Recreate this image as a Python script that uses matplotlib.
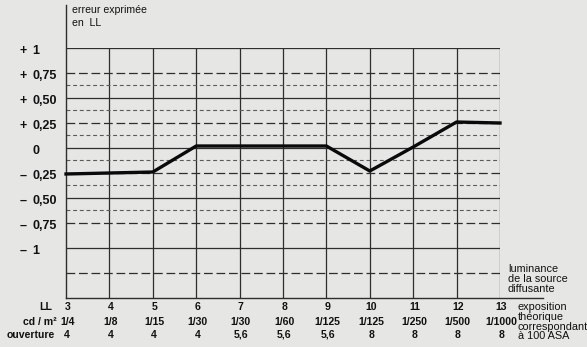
import matplotlib
matplotlib.use("Agg")
import matplotlib.pyplot as plt
from matplotlib.transforms import blended_transform_factory as btf

# ---- data ----
ll = [3, 4, 5, 6, 7, 8, 9, 10, 11, 12, 13]
erreur = [-0.26, -0.25, -0.24, 0.02, 0.02, 0.02, 0.02, -0.23, 0.01, 0.26, 0.25]
cd_m2 = ["1/4", "1/8", "1/15", "1/30", "1/30", "1/60", "1/125", "1/125", "1/250", "1/500", "1/1000"]
ouverture = ["4", "4", "4", "4", "5,6", "5,6", "5,6", "8", "8", "8", "8"]
y_ticks = [1, 0.75, 0.5, 0.25, 0, -0.25, -0.5, -0.75, -1]
y_signs = ["+", "+", "+", "+", "", "–", "–", "–", "–"]
y_nums = ["1", "0,75", "0,50", "0,25", "0", "0,25", "0,50", "0,75", "1"]
solid_y = [1, 0.5, 0, -0.5, -1]
long_dash_y = [0.75, 0.25, -0.25, -0.75, -1.25]
short_dash_y = [0.625, 0.375, 0.125, -0.125, -0.375, -0.625]

W, H = 587, 347
bg = "#e6e6e4"
fig = plt.figure(figsize=(W / 100, H / 100), dpi=100, facecolor=bg)
L, R, T, B = 66, 500, 48, 298
ax = fig.add_axes([L / W, 1 - B / H, (R - L) / W, (B - T) / H])
ax.set_facecolor(bg)
ax.set_xlim(3, 13)
ax.set_ylim(-1.5, 1)
for s in ax.spines.values():
    s.set_visible(False)
ax.set_xticks([])
ax.set_yticks([])

gc = "#2e2e2e"
for x in ll[1:]:
    ax.plot([x, x], [-1.5, 1], color=gc, lw=0.9, solid_capstyle="butt")
for y in solid_y:
    ax.plot([3, 13], [y, y], color=gc, lw=0.9)
for y in long_dash_y:
    ax.plot([3, 13], [y, y], color=gc, lw=0.9, dashes=(7, 3))
for y in short_dash_y:
    ax.plot([3, 13], [y, y], color="#5a5a5a", lw=0.8, dashes=(3.5, 2.5))
# axis lines
ax.plot([3, 3], [-1.5, 1.43], color=gc, lw=1.0, clip_on=False)
ax.plot([3, 14], [-1.5, -1.5], color=gc, lw=1.0, clip_on=False)

# data line
ax.plot(ll, erreur, color="#0a0a0a", lw=2.4, solid_joinstyle="round", clip_on=False)

bold = dict(fontfamily=["Liberation Sans", "DejaVu Sans"], fontweight="bold", color="#111111")
norm = dict(fontfamily=["Liberation Sans", "DejaVu Sans"], color="#111111")

tr_y = btf(fig.transFigure, ax.transData)
for y, sgn, num in zip(y_ticks, y_signs, y_nums):
    yb = y - 0.06  # baseline ~6 px below grid line
    if sgn:
        fig.text(19.5 / W, yb, sgn, transform=tr_y, ha="left", va="baseline", fontsize=9, **bold)
    fig.text(32.5 / W, yb, num, transform=tr_y, ha="left", va="baseline", fontsize=9, **bold)

tr_x = btf(ax.transData, fig.transFigure)
rows = [(310.5, [str(v) for v in ll]), (325, cd_m2), (337.5, ouverture)]
for ypix, labels in rows:
    for x, lab in zip(ll, labels):
        fig.text(x + 0.03, 1 - ypix / H, lab, transform=tr_x, ha="center", va="baseline", fontsize=7.6, **bold)
row_names = ["LL", "cd / m²", "ouverture"]
row_right = [52, 57, 55]
for (ypix, _), name, rx in zip(rows, row_names, row_right):
    fig.text(rx / W, 1 - ypix / H, name, ha="right", va="baseline", fontsize=7.6, **bold)

fig.text(72 / W, 1 - 13 / H, "erreur exprimée", ha="left", va="baseline", fontsize=7.6, **norm)
fig.text(72 / W, 1 - 26 / H, "en  LL", ha="left", va="baseline", fontsize=7.6, **norm)

for i, line in enumerate(["luminance", "de la source", "diffusante"]):
    fig.text(508 / W, 1 - (272 + 10 * i) / H, line, ha="left", va="baseline", fontsize=7.8, **norm)
for i, line in enumerate(["exposition", "théorique", "correspondant", "à 100 ASA"]):
    fig.text(518 / W, 1 - (310 + 9.8 * i) / H, line, ha="left", va="baseline", fontsize=7.8, **norm)

fig.savefig("out.png", dpi=100, facecolor=bg)
